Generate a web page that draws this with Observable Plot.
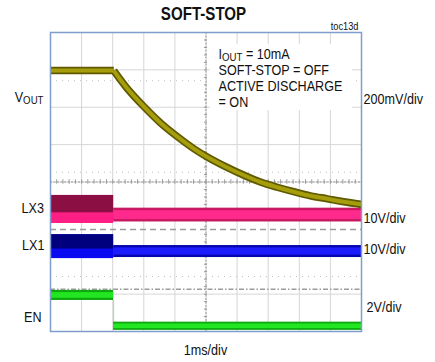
<!DOCTYPE html>
<html><head><meta charset="utf-8">
<script src="https://cdn.jsdelivr.net/npm/d3@7"></script>
<script src="https://cdn.jsdelivr.net/npm/@observablehq/plot@0.6"></script>
<style>
body{margin:0;background:#fff;}
svg text{font-family:"Liberation Sans",Arial,sans-serif;}
</style></head><body><div id="chart"></div>
<script>
// Time in ms (1 ms/div, 10 divisions); amplitude in screen divisions (8 divisions)
const voutTime  = [0, 2.035, 2.47, 3.00, 3.54, 4.07, 4.61, 5.04, 5.68, 6.22, 6.75, 7.29, 7.82, 8.36, 8.90, 9.43, 10];
const voutLevel = [6.98, 6.98, 6.50, 6.02, 5.58, 5.22, 4.89, 4.67, 4.39, 4.18, 4.00, 3.86, 3.74, 3.63, 3.55, 3.47, 3.40];

const segStart = [0, 2.03];
const segEnd   = [2.03, 10];
const lx3Upper = [3.64, 3.30];
const lx3Lower = [2.89, 2.93];
const lx1Upper = [2.59, 2.30];
const lx1Lower = [1.95, 1.98];
const enUpper  = [1.10, 0.25];
const enLower  = [0.83, 0.03];
const lx3Marker = 2.73;
const enMarker  = 1.13;
const faintLevels = [6.71, 4.26, 1.47];

const titleText = "SOFT-STOP";
const figId = "toc13d";
const leftLabels  = ["V_OUT", "LX3", "LX1", "EN"];
const rightLabels = ["200mV/div", "10V/div", "10V/div", "2V/div"];
const xScaleLabel = "1ms/div";
const noteLines = ["I_OUT = 10mA", "SOFT-STOP = OFF", "ACTIVE DISCHARGE", "= ON"];

const vout = voutTime.map((t, i) => ({t, v: voutLevel[i]}));
const voutFlat = vout.slice(0, 2);
const voutDecay = vout.slice(1);
const seg = (up, lo) => segStart.map((s, i) => ({x1: s, x2: segEnd[i], y1: lo[i], y2: up[i]}));
const lx3 = seg(lx3Upper, lx3Lower);
const lx1 = seg(lx1Upper, lx1Lower);
const en  = seg(enUpper, enLower);
const inset = (arr, k) => arr.map(d => ({...d, y1: d.y1 + (d.y2 - d.y1) * k, y2: d.y2 - (d.y2 - d.y1) * k}));
const splitTop = (arr, f) => [{...arr[0], y1: arr[0].y1 + (arr[0].y2 - arr[0].y1) * f}];

function label(txt, px, py, o = {}) {
  return Plot.text([txt], {text: d => d, frameAnchor: "top-left", dx: px - 50, dy: py - 32,
    fontSize: 15, textAnchor: "start", lineAnchor: "middle", fill: "#111", ...o});
}
const rectOpts = {x1: "x1", x2: "x2", y1: "y1", y2: "y2"};
const lineOpts = {x: "t", y: "v", clip: true, strokeLinecap: "butt"};

const chart = Plot.plot({
  width: 435, height: 362,
  marginLeft: 50, marginRight: 74, marginTop: 32, marginBottom: 31,
  x: {domain: [0, 10], axis: null},
  y: {domain: [0, 8], axis: null},
  marks: [
    Plot.ruleX(d3.range(1, 10), {stroke: "#d6d6d6", strokeWidth: 1}),
    Plot.ruleY(d3.range(1, 8), {stroke: "#d6d6d6", strokeWidth: 1}),
    Plot.ruleY(faintLevels, {stroke: "#bdbdbd", strokeWidth: 1, strokeDasharray: "1,5"}),
    Plot.ruleY([4], {stroke: "#9a9a9a", strokeWidth: 1, strokeDasharray: "2,1.5"}),
    Plot.ruleX([5], {stroke: "#9a9a9a", strokeWidth: 1, strokeDasharray: "2,1.5"}),
    Plot.ruleX(d3.range(0.2, 10, 0.2), {x: d => d, y1: 3.94, y2: 4.06, stroke: "#9a9a9a"}),
    Plot.ruleY(d3.range(0.2, 8, 0.2), {y: d => d, x1: 4.95, x2: 5.05, stroke: "#9a9a9a"}),
    Plot.rect([0], {x1: 5.14, x2: 9.71, y1: 5.91, y2: 7.67, fill: "white"}),
    Plot.ruleY([lx3Marker], {stroke: "#9c9c9c", strokeWidth: 1.6, strokeDasharray: "6,4"}),
    Plot.ruleY([enMarker], {stroke: "#9c9c9c", strokeWidth: 1.3, strokeDasharray: "5,2,1.5,2"}),
    // LX3
    Plot.rect(lx3, {...rectOpts, fill: (d, i) => i === 0 ? "#ff1f84" : "#c81a62"}),
    Plot.rect(splitTop(lx3, 0.38), {...rectOpts, fill: "#8b0f42"}),
    Plot.rect([inset(lx3, 0.18)[1]], {...rectOpts, fill: "#ff2a8c"}),
    // LX1
    Plot.rect(lx1, {...rectOpts, fill: (d, i) => i === 0 ? "#0a0af2" : "#0606b0"}),
    Plot.rect(splitTop(lx1, 0.4), {...rectOpts, fill: "#00007e"}),
    Plot.rect([inset(lx1, 0.2)[1]], {...rectOpts, fill: "#1c1cff"}),
    // EN
    Plot.ruleX([segEnd[0]], {y1: enLower[0], y2: enLower[1], stroke: "#9be09b", strokeWidth: 1}),
    Plot.rect(en, {...rectOpts, fill: "#10a810"}),
    Plot.rect(inset(en, 0.22), {...rectOpts, fill: "#22e622"}),
    // VOUT
    Plot.line(voutFlat, {...lineOpts, stroke: "#5f5900", strokeWidth: 7.5}),
    Plot.line(voutDecay, {...lineOpts, stroke: "#5f5900", strokeWidth: 7.5, curve: "catmull-rom"}),
    Plot.line(voutFlat, {...lineOpts, stroke: "#a59d0c", strokeWidth: 4}),
    Plot.line(voutDecay, {...lineOpts, stroke: "#a59d0c", strokeWidth: 4, curve: "catmull-rom"}),
    Plot.frame({stroke: "#7f9dcd", strokeWidth: 1.5}),
    // texts
    label(titleText, 203, 13.5, {textAnchor: "middle", fontSize: 18, fontWeight: "bold"}),
    label(figId, 358, 25.5, {textAnchor: "end", fontSize: 11}),
    label(leftLabels[0], 43, 96.5, {textAnchor: "end"}),
    label(leftLabels[1], 43.5, 208, {textAnchor: "end"}),
    label(leftLabels[2], 44, 245, {textAnchor: "end"}),
    label(leftLabels[3], 41, 317, {textAnchor: "end"}),
    label(rightLabels[0], 363, 98.7),
    label(rightLabels[1], 363, 217.5),
    label(rightLabels[2], 363, 248.5),
    label(rightLabels[3], 366, 306.7),
    label(xScaleLabel, 205, 350, {textAnchor: "middle"}),
    label(noteLines[0], 218, 53.5),
    label(noteLines[1], 218, 70),
    label(noteLines[2], 218, 86),
    label(noteLines[3], 218, 102)
  ]
});

const ns = "http://www.w3.org/2000/svg";
d3.select(chart).selectAll("text").each(function() {
  const el = this;
  const full = el.textContent;
  // subscripts written as "_OUT"
  const m = full.match(/^(.*?)_([A-Z]+)(.*)$/);
  if (m) {
    while (el.firstChild) el.removeChild(el.firstChild);
    const a = document.createElementNS(ns, "tspan"); a.textContent = m[1];
    const b = document.createElementNS(ns, "tspan"); b.textContent = m[2];
    b.setAttribute("dy", "2.5"); b.setAttribute("font-size", "11.5");
    el.appendChild(a); el.appendChild(b);
    if (m[3]) {
      const c = document.createElementNS(ns, "tspan"); c.textContent = m[3];
      c.setAttribute("dy", "-2.5");
      el.appendChild(c);
    }
  }
  // narrow face like the original (condensed Arial)
  const tr = el.getAttribute("transform") || "";
  el.setAttribute("transform", tr + " scale(0.84,1)");
});

document.getElementById("chart").appendChild(chart);
</script>
</body></html>
